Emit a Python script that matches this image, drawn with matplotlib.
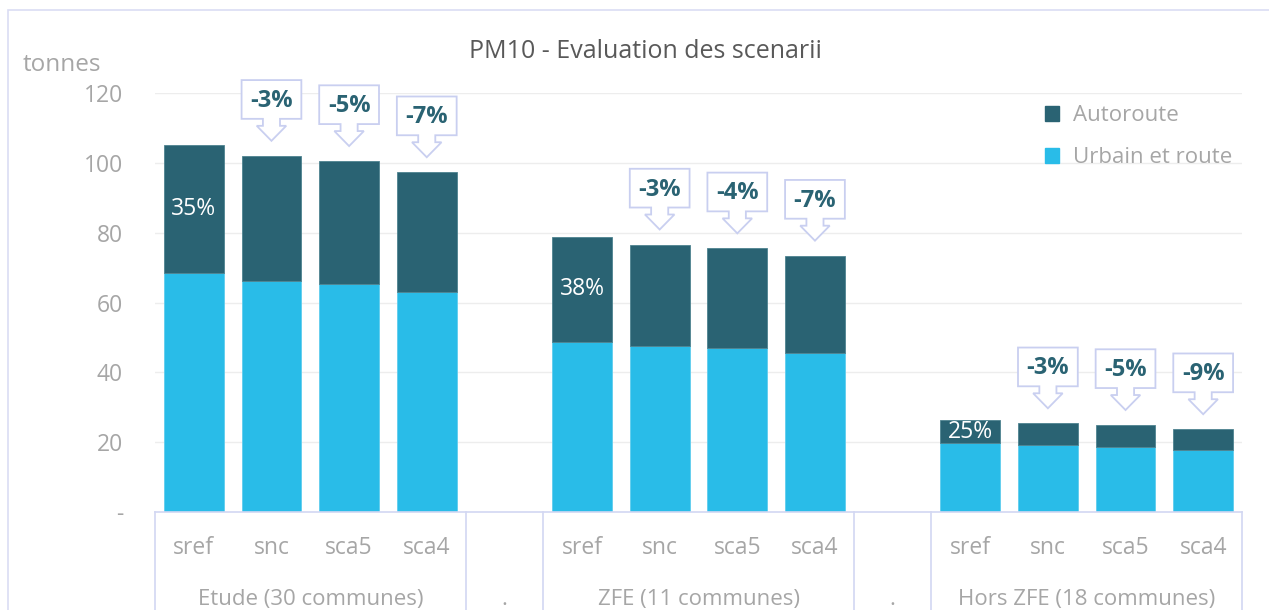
import matplotlib
matplotlib.use('Agg')
import matplotlib.pyplot as plt
from matplotlib.patches import Polygon, Rectangle, Patch

plt.rcParams['font.family'] = ['Open Sans', 'DejaVu Sans']

# PM10 emissions (tonnes) per zone and scenario
zones = ['Etude (30 communes)', 'ZFE (11 communes)', 'Hors ZFE (18 communes)']
scenarios = ['sref', 'snc', 'sca5', 'sca4']
urbain = [68.4, 66.3, 65.4, 62.9, 48.7, 47.4, 46.9, 45.4, 19.7, 19.1, 18.6, 17.7]
autoroute = [36.6, 35.7, 35.1, 34.4, 30.2, 29.2, 28.6, 28.0, 6.6, 6.3, 6.3, 6.0]
# change of the total vs sref, for snc / sca5 / sca4 in each zone
evolution = [['-3%', '-5%', '-7%'], ['-3%', '-4%', '-7%'], ['-3%', '-5%', '-9%']]
yticks = [0, 20, 40, 60, 80, 100, 120]
ytick_labels = ['-', '20', '40', '60', '80', '100', '120']

DARK = '#2A6373'
LIGHT = '#29BCE8'
GRAY = '#A6A6A6'
LAV = '#D2D7F2'

W, H = 1269, 610
fig = plt.figure(figsize=(W / 100, H / 100), dpi=100)
ax = fig.add_axes([155 / W, (H - 512) / H, (1242 - 155) / W, (512 - 93) / H])

# slot positions: 4 bars per zone, one empty slot between zones
xs = []
for z in range(len(zones)):
    xs += [z * 5 + i for i in range(len(scenarios))]

bw = 0.77
ax.bar(xs, urbain, width=bw, color=LIGHT, edgecolor='#5FCDEE', linewidth=0.6, zorder=3)
ax.bar(xs, autoroute, bottom=urbain, width=bw, color=DARK, edgecolor='#4E8390', linewidth=0.6, zorder=3)

ax.set_xlim(-0.5, 13.5)
ax.set_ylim(0, 120)
ax.set_yticks(yticks)
ax.set_yticklabels(ytick_labels)
ax.tick_params(axis='y', length=0, pad=23, labelsize=16.5, labelcolor=GRAY)
ax.set_xticks([])
for s in ax.spines.values():
    s.set_visible(False)
for t in yticks[1:]:
    ax.axhline(t, color='#EDEDED', lw=1, zorder=1)

# share of motorway in sref bars
for z in range(len(zones)):
    i = z * 4
    tot = urbain[i] + autoroute[i]
    share = round(100 * autoroute[i] / tot)
    ax.text(xs[i], urbain[i] + autoroute[i] / 2, f'{share}%', color='white',
            ha='center', va='center', fontsize=16.5, zorder=4)

# down-arrow callouts above the scenario bars
gap, head, stem, boxh = 4.3, 4.3, 2.0, 11.1
hw, sw, aw = bw / 2, 0.11, 0.19
for z in range(len(zones)):
    for k in range(3):
        i = z * 4 + k + 1
        x = xs[i]
        tip = urbain[i] + autoroute[i] + gap
        y1 = tip + head
        y2 = y1 + stem
        y3 = y2 + boxh
        pts = [(x, tip), (x + aw, y1), (x + sw, y1), (x + sw, y2), (x + hw, y2),
               (x + hw, y3), (x - hw, y3), (x - hw, y2), (x - sw, y2), (x - sw, y1),
               (x - aw, y1)]
        ax.add_patch(Polygon(pts, closed=True, facecolor='white', edgecolor='#C9CFF0',
                             lw=1.3, zorder=5, clip_on=False))
        ax.text(x, (y2 + y3) / 2 - 0.4, evolution[z][k], color=DARK, fontweight='bold',
                ha='center', va='center', fontsize=17, zorder=6)

# category table under the plot
ax.plot([-0.5, 13.5], [0, 0], color=LAV, lw=1.2, clip_on=False, zorder=4)
for xv in [-0.5, 3.5, 4.5, 8.5, 9.5, 13.5]:
    ax.plot([xv, xv], [0, -40], color=LAV, lw=1.2, clip_on=False, zorder=4)
for z, name in enumerate(zones):
    for k, sc in enumerate(scenarios):
        ax.text(z * 5 + k, -10.3, sc, color=GRAY, fontsize=16.5, ha='center', va='center')
    ax.text(z * 5 + 1.5, -25.2, name, color=GRAY, fontsize=16, ha='center', va='center')
for xv in [4, 9]:
    ax.text(xv, -25.2, '.', color=GRAY, fontsize=16, ha='center', va='center')

fig.text(645 / W, (H - 51) / H, 'PM10 - Evaluation des scenarii', color='#595959',
         fontsize=18, ha='center', va='center')
fig.text(23 / W, (H - 65) / H, 'tonnes', color=GRAY, fontsize=17.5, ha='left', va='center')

handles = [Patch(facecolor=DARK, edgecolor=DARK), Patch(facecolor=LIGHT, edgecolor=LIGHT)]
leg = ax.legend(handles, ['Autoroute', 'Urbain et route'], loc='upper left',
                bbox_to_anchor=(1045 / W, (H - 105) / H), bbox_transform=fig.transFigure,
                frameon=False, fontsize=16, handlelength=0.65, handleheight=0.65,
                handletextpad=0.6, labelspacing=0.95, borderpad=0, borderaxespad=0)
for t in leg.get_texts():
    t.set_color(GRAY)

# outer frame
fig.patches.append(Rectangle((8 / W, -0.1), 1.2, (H - 10) / H + 0.1, transform=fig.transFigure,
                             fill=False, edgecolor='#DADDF3', lw=1.2))

fig.savefig('out.png', dpi=100)
